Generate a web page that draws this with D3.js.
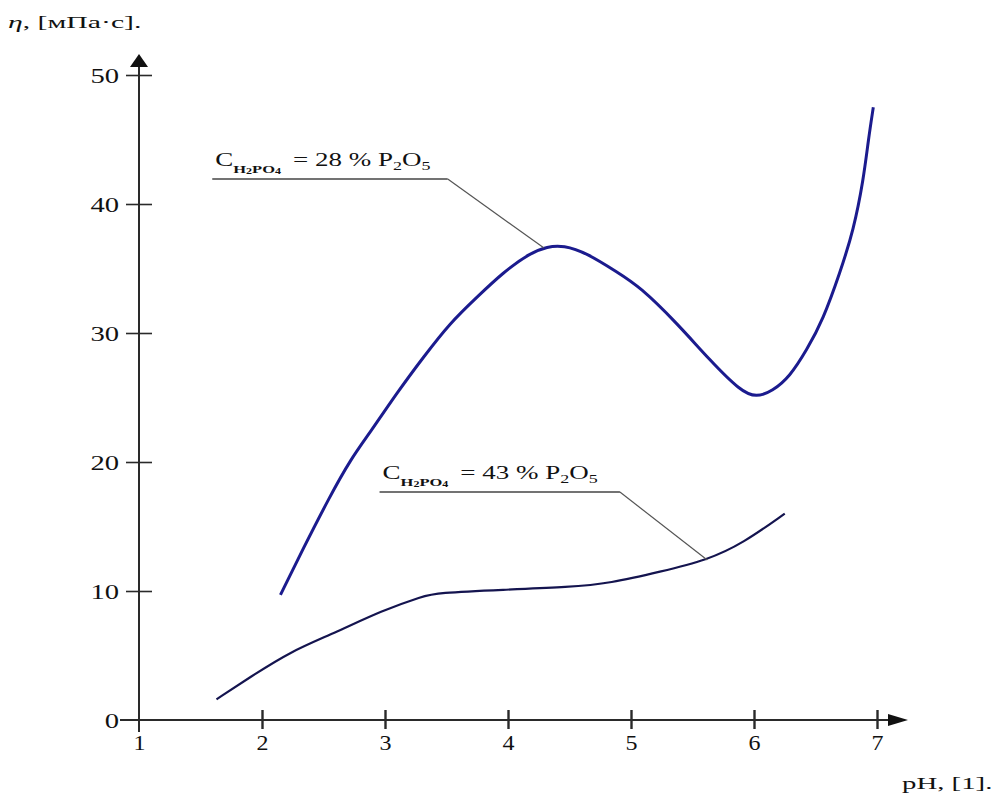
<!DOCTYPE html>
<html>
<head>
<meta charset="utf-8">
<script src="https://cdn.jsdelivr.net/npm/d3@7"></script>
<style>
  body { margin: 0; background: #fff; }
  svg text { font-family: "Liberation Serif", "Times New Roman", "DejaVu Serif", serif; fill: #111; }
</style>
</head>
<body>
<div id="chart"></div>
<script>
// data: pH vs viscosity
var ph28 = [2.15, 2.33, 2.55, 2.72, 2.88, 3.1, 3.31, 3.53, 3.75, 3.96, 4.18, 4.32, 4.45, 4.64, 4.89, 5.07, 5.37, 5.64, 5.89, 6.02, 6.15, 6.29, 6.43, 6.56, 6.7, 6.81, 6.89, 6.93, 6.97];
var eta28 = [9.7, 13.2, 17.3, 20.2, 22.3, 25.4, 28.1, 30.8, 32.8, 34.7, 36.2, 36.7, 36.8, 36.2, 34.7, 33.6, 30.8, 27.9, 25.5, 25.0, 25.5, 26.6, 28.7, 31.0, 34.7, 38.0, 41.9, 45.0, 47.5];
var ph43 = [1.63, 1.9, 2.23, 2.58, 2.98, 3.31, 3.42, 3.96, 4.5, 4.83, 5.24, 5.62, 5.91, 6.25];
var eta43 = [1.6, 3.3, 5.3, 6.7, 8.5, 9.6, 9.85, 10.1, 10.3, 10.6, 11.5, 12.4, 13.7, 16.0];
var xTicks = [1, 2, 3, 4, 5, 6, 7];
var yTicks = [0, 10, 20, 30, 40, 50];
var labels28 = ["28"];
var labels43 = ["43"];

var width = 995, height = 794;
var margin = {top: 75, right: 118, bottom: 74, left: 139};

var svg = d3.select("#chart").append("svg")
    .attr("width", width)
    .attr("height", height);

var x = d3.scaleLinear().domain([1, 7]).range([margin.left, width - margin.right]);
var y = d3.scaleLinear().domain([0, 50]).range([height - margin.bottom - 0, margin.top]);

var axisCol = "#2a2a2a";

// x axis line + arrow
svg.append("line")
    .attr("x1", 120).attr("x2", x(7) + 14)
    .attr("y1", y(0)).attr("y2", y(0))
    .attr("stroke", axisCol).attr("stroke-width", 2);
svg.append("path")
    .attr("d", "M" + (x(7) + 11) + "," + (y(0) - 6) + "L" + (x(7) + 31) + "," + y(0) + "L" + (x(7) + 11) + "," + (y(0) + 6) + "Z")
    .attr("fill", "#111");

// y axis line + arrow
svg.append("line")
    .attr("x1", x(1)).attr("x2", x(1))
    .attr("y1", y(50) - 10).attr("y2", y(0) + 12)
    .attr("stroke", axisCol).attr("stroke-width", 2);
svg.append("path")
    .attr("d", "M" + (x(1) - 9) + "," + (y(50) - 8) + "L" + x(1) + "," + (y(50) - 21) + "L" + (x(1) + 9) + "," + (y(50) - 8) + "Z")
    .attr("fill", "#111");

// x axis ticks
var xaxis = d3.axisBottom(x).tickValues(xTicks).tickSize(0).tickFormat(d3.format("d"));
var gx = svg.append("g").attr("class", "xaxis")
    .attr("transform", "translate(0," + y(0) + ")")
    .call(xaxis);
gx.select(".domain").remove();
gx.selectAll(".tick line").remove();
gx.selectAll(".tick").filter(function(d) { return d > 1; })
  .append("line")
    .attr("y1", -10).attr("y2", 9)
    .attr("stroke", axisCol).attr("stroke-width", 2.4);
gx.selectAll(".tick text")
    .attr("x", 0).attr("y", 0).attr("dy", 0)
    .attr("transform", "translate(0,30) scale(1.2,1)")
    .attr("font-size", "20px")
    .attr("fill", "#111");

// y axis ticks
var yaxis = d3.axisLeft(y).tickValues(yTicks).tickSize(0).tickFormat(d3.format("d"));
var gy = svg.append("g").attr("class", "yaxis")
    .attr("transform", "translate(" + x(1) + ",0)")
    .call(yaxis);
gy.select(".domain").remove();
gy.selectAll(".tick line").remove();
gy.selectAll(".tick").filter(function(d) { return d > 0; })
  .append("line")
    .attr("x1", -13).attr("x2", 13)
    .attr("stroke", axisCol).attr("stroke-width", 1.6);
gy.selectAll(".tick text")
    .attr("x", 0)
    .attr("dy", "0.35em")
    .attr("transform", "translate(-20,0) scale(1.3,1)")
    .attr("font-size", "22px")
    .attr("fill", "#111");

// curves
var line = d3.line()
    .x(function(d) { return x(d[0]); })
    .y(function(d) { return y(d[1]); })
    .curve(d3.curveBasis);

svg.append("path")
    .datum(d3.zip(ph28, eta28))
    .attr("d", line)
    .attr("fill", "none")
    .attr("stroke", "#1b1b8e")
    .attr("stroke-width", 3);

svg.append("path")
    .datum(d3.zip(ph43, eta43))
    .attr("d", line)
    .attr("fill", "none")
    .attr("stroke", "#14144f")
    .attr("stroke-width", 2.2);

// annotations: text start, underline end, leader target (in data units)
function annotate(tx, ty, ux, target, pct) {
  var g = svg.append("g");
  var t = g.append("text")
      .attr("transform", "translate(" + x(tx) + "," + y(ty) + ") scale(1.5,1)")
      .attr("font-size", "18px");
  t.append("tspan").text("C");
  t.append("tspan").attr("font-size", "11px").attr("font-weight", "bold").attr("dy", 7).text("H");
  t.append("tspan").attr("font-size", "8px").attr("font-weight", "bold").attr("dy", 1).text("2");
  t.append("tspan").attr("font-size", "11px").attr("font-weight", "bold").attr("dy", -1).text("PO");
  t.append("tspan").attr("font-size", "8px").attr("font-weight", "bold").attr("dy", 1).text("4");
  t.append("tspan").attr("dy", -8).attr("dx", 8).text("= " + pct + " % P");
  t.append("tspan").attr("font-size", "12px").attr("dy", 4).text("2");
  t.append("tspan").attr("dy", -4).text("O");
  t.append("tspan").attr("font-size", "12px").attr("dy", 4).text("5");

  var uy = y(ty) + 13;
  g.append("line")
      .attr("x1", x(tx) - 3).attr("x2", x(ux))
      .attr("y1", uy).attr("y2", uy)
      .attr("stroke", "#444").attr("stroke-width", 1.6);
  g.append("line")
      .attr("x1", x(ux)).attr("x2", x(target[0]))
      .attr("y1", uy).attr("y2", y(target[1]))
      .attr("stroke", "#555").attr("stroke-width", 1.2);
}
annotate(1.62, 42.95, 3.51, [4.29, 36.6], labels28[0]);
annotate(2.98, 18.68, 4.91, [5.62, 12.4], labels43[0]);

// axis titles
svg.append("text")
    .attr("transform", "translate(8,28) scale(1.75,1)")
    .attr("font-size", "17px")
    .html("<tspan font-style='italic'>η</tspan>, [мПа·с].");
svg.append("text")
    .attr("transform", "translate(902,789) scale(1.8,1)")
    .attr("font-size", "16px")
    .text("pH, [1].");
</script>
</body>
</html>
